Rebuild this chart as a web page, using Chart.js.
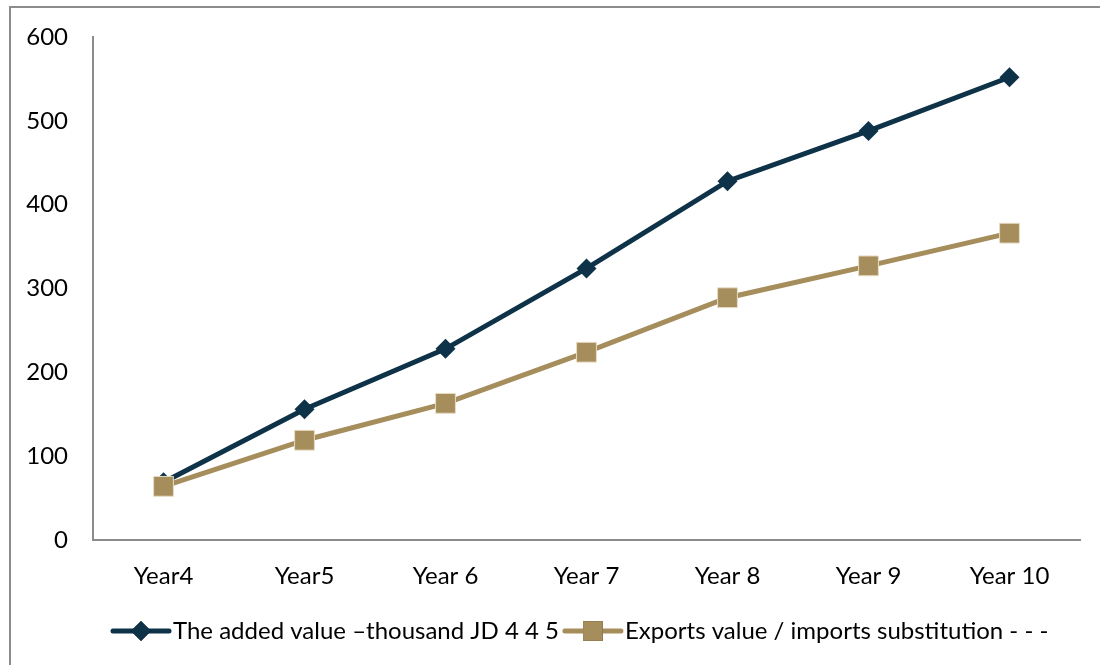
<!DOCTYPE html>
<html>
<head>
<meta charset="utf-8">
<script src="https://cdn.jsdelivr.net/npm/chart.js@4/dist/chart.umd.min.js"></script>
<style>
  html, body { margin: 0; padding: 0; background: #fff; }
  #wrap { width: 1100px; height: 665px; position: relative; }
</style>
</head>
<body>
<div id="wrap"><canvas id="lineChart" width="1100" height="665"></canvas></div>
<script>
const years = ["Year4", "Year5", "Year 6", "Year 7", "Year 8", "Year 9", "Year 10"];
const addedValue = [69, 156, 228, 324, 428, 488, 552];
const exportsValue = [64, 119, 163, 224, 289, 327, 366];
const yTicks = [0, 100, 200, 300, 400, 500, 600];
const seriesNames = ["The added value \u2013thousand JD 4 4 5", "Exports value / imports substitution - - -"];

const NAVY = "#0e3248";
const TAN = "#a58d5c";
const FONT = "Lato, 'Liberation Sans', sans-serif";
const FONT_SIZE = 24;

// frame + legend drawn by hand (line with marker in the middle, like the office legend)
const frameAndLegend = {
  id: "frameAndLegend",
  beforeDraw(chart) {
    const ctx = chart.ctx;
    ctx.save();
    ctx.strokeStyle = "#8c8c8c";
    ctx.lineWidth = 2;
    ctx.strokeRect(10, 7, 1200, 800);
    ctx.restore();
  },
  afterDraw(chart) {
    const ctx = chart.ctx;
    const y = 631;
    let x = 113;
    ctx.save();
    ctx.font = FONT_SIZE + "px " + FONT;
    ctx.textBaseline = "middle";
    chart.data.datasets.forEach((ds) => {
      ctx.strokeStyle = ds.borderColor;
      ctx.lineWidth = ds.borderWidth;
      ctx.lineCap = "round";
      ctx.beginPath();
      ctx.moveTo(x, y);
      ctx.lineTo(x + 56, y);
      ctx.stroke();
      Chart.helpers.drawPoint(ctx, {
        pointStyle: ds.pointStyle,
        radius: ds.pointRadius,
        borderWidth: 0
      }, x + 28, y);
      ctx.fillStyle = ds.pointBackgroundColor;
      ctx.fill();
      ctx.fillStyle = "#000";
      ctx.fillText(ds.label, x + 60, y);
      x += 60 + ctx.measureText(ds.label).width + 6;
    });
    ctx.restore();
  }
};

new Chart(document.getElementById("lineChart"), {
  type: "line",
  data: {
    labels: years,
    datasets: [
      {
        label: seriesNames[0],
        data: addedValue,
        borderColor: NAVY,
        backgroundColor: NAVY,
        pointBackgroundColor: NAVY,
        pointBorderColor: NAVY,
        borderWidth: 5,
        pointStyle: "rectRot",
        pointRadius: 10,
        pointBorderWidth: 0,
        tension: 0,
        order: 2
      },
      {
        label: seriesNames[1],
        data: exportsValue,
        borderColor: TAN,
        backgroundColor: TAN,
        pointBackgroundColor: TAN,
        pointBorderColor: "#e8dcc4",
        borderWidth: 5,
        pointStyle: "rect",
        pointRadius: 14,
        pointBorderWidth: 1,
        tension: 0,
        order: 1
      }
    ]
  },
  options: {
    responsive: false,
    animation: false,
    layout: { padding: { left: 0, top: 37, right: 20, bottom: 0 } },
    plugins: {
      legend: { display: false },
      tooltip: { enabled: false }
    },
    scales: {
      x: {
        offset: true,
        grid: { display: false, drawTicks: false },
        border: { color: "#8c8c8c", width: 2 },
        ticks: { color: "#000", font: { family: FONT, size: FONT_SIZE }, padding: 22, maxRotation: 0 },
        afterFit(scale) {
          scale.height = 125;
          scale.paddingLeft = 0;
          scale.paddingRight = 0;
        }
      },
      y: {
        min: 0,
        max: 600,
        afterBuildTicks(scale) { scale.ticks = yTicks.map(v => ({ value: v })); },
        grid: { display: false, drawTicks: false },
        border: { color: "#8c8c8c", width: 2 },
        ticks: { color: "#000", font: { family: FONT, size: FONT_SIZE }, padding: 25 },
        afterFit(scale) {
          scale.width = 93;
          scale.paddingTop = 0;
          scale.paddingBottom = 0;
        }
      }
    }
  },
  plugins: [frameAndLegend]
});
</script>
</body>
</html>
